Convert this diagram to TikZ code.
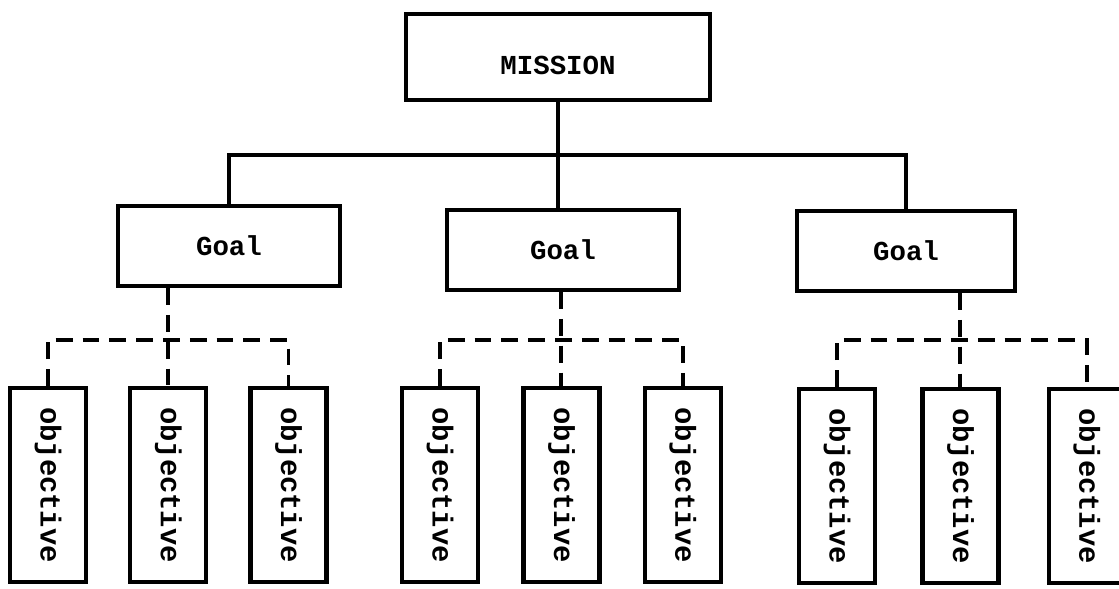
\documentclass[tikz,border=0pt]{standalone}
\usepackage{fontspec}
\setmonofont{Liberation Mono}
\usepackage{graphicx}
\usetikzlibrary{positioning}

\begin{document}
\begin{tikzpicture}[
    x=0.025cm, y=-0.025cm,
    base_box/.style={rectangle, draw=black, line width=3pt, inner sep=2pt, font=\ttfamily\bfseries\fontsize{19.5}{22}\selectfont},
    mission_box/.style={base_box, minimum width=7.6cm, minimum height=2.15cm, text height=0.9cm},
    goal_box/.style={base_box, minimum height=2.0cm},
    obj_box/.style={base_box, minimum width=1.9cm, minimum height=4.85cm, font=\ttfamily\bfseries\fontsize{20.5}{22}\selectfont},
    link/.style={draw=black, line width=2.4pt},
    dash_link/.style={draw=black, line width=2.8pt, dash pattern=on 0.42cm off 0.25cm}
]
    \useasboundingbox (0,0) rectangle (1119,588);

    \node[mission_box] (mission) at (558,57) {MISSION};

    \node[goal_box, minimum width=5.55cm] (g1) at (229,246) {Goal};
    \node[goal_box, minimum width=5.8cm] (g2) at (563,250) {Goal};
    \node[goal_box, minimum width=5.45cm] (g3) at (906,251) {Goal};

    \node[obj_box] (o1) at (48,485) {\rotatebox{-90}{objective}};
    \node[obj_box, right=1cm of o1] (o2) {\rotatebox{-90}{objective}};
    \node[obj_box, right=1cm of o2] (o3) {\rotatebox{-90}{objective}};

    \node[obj_box] (o4) at (440,485) {\rotatebox{-90}{objective}};
    \node[obj_box, right=1.03cm of o4] (o5) {\rotatebox{-90}{objective}};
    \node[obj_box, right=1.03cm of o5] (o6) {\rotatebox{-90}{objective}};

    \node[obj_box] (o7) at (837,486) {\rotatebox{-90}{objective}};
    \node[obj_box, right=1.08cm of o7] (o8) {\rotatebox{-90}{objective}};
    \node[obj_box, right=1.15cm of o8] (o9) {\rotatebox{-90}{objective}};

    \coordinate (hub) at (558,155);
    \coordinate (tier) at (0,340);

    % mission to goals
    \draw[link] (mission.south) -- (mission.south |- g2.north);
    \draw[link, line width=2.8pt] (g1.north) |- (hub) -| (g3.north);

    % goals to objectives
    \draw[dash_link] (g1.south -| o2.north) -- (o2.north);
    \draw[dash_link] (o1.north) |- (o3.north |- tier) -- (o3.north);
    \draw[dash_link] (g2.south -| o5.north) -- (o5.north);
    \draw[dash_link] (o4.north) |- (o6.north |- tier) -- (o6.north);
    \draw[dash_link] (g3.south -| o8.north) -- (o8.north);
    \draw[dash_link] (o7.north) |- (o9.north |- tier) -- (o9.north);
\end{tikzpicture}
\end{document}
